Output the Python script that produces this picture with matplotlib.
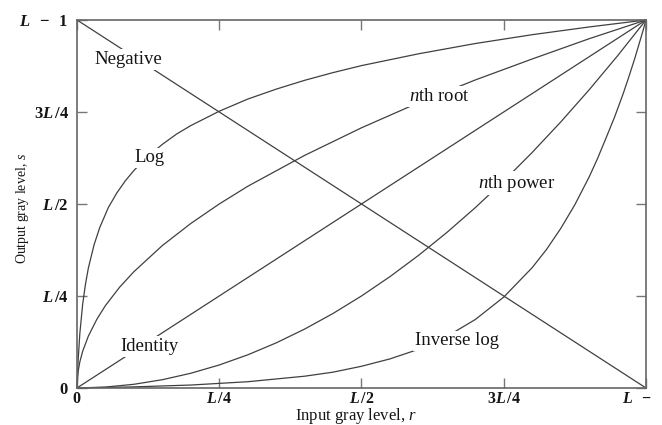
import matplotlib
matplotlib.use("Agg")
import matplotlib.pyplot as plt

plt.rcParams.update({"font.family": "Liberation Serif",
                     "mathtext.fontset": "custom",
                     "mathtext.rm": "Liberation Serif",
                     "mathtext.it": "Liberation Serif:italic",
                     "mathtext.bf": "Liberation Serif:bold",
                     "mathtext.bfit": "Liberation Serif:italic:bold"})

# curve values (fractions of L-1)
X_NEG = [0.0, 1.0]
Y_NEG = [1.0, 0.0]
X_ID = [0.0, 1.0]
Y_ID = [0.0, 1.0]
X_LOG = [0.0, 0.002, 0.005, 0.01, 0.015, 0.02, 0.03, 0.04, 0.055, 0.07, 0.085, 0.1,
         0.125, 0.15, 0.175, 0.2, 0.25, 0.3, 0.35, 0.4, 0.45, 0.5, 0.6, 0.7, 0.8,
         0.9, 1.0]
Y_LOG = [0.0, 0.075, 0.148, 0.228, 0.283, 0.326, 0.389, 0.436, 0.490, 0.530, 0.563,
         0.591, 0.630, 0.662, 0.690, 0.713, 0.752, 0.785, 0.812, 0.836, 0.857,
         0.876, 0.908, 0.936, 0.960, 0.981, 1.0]
X_INV = [0.0, 0.1, 0.2, 0.3, 0.4, 0.45, 0.5, 0.55, 0.6, 0.65, 0.7, 0.75, 0.8, 0.825,
         0.85, 0.875, 0.9, 0.915, 0.93, 0.945, 0.96, 0.97, 0.98, 0.99, 0.995, 0.998,
         1.0]
Y_INV = [0.0, 0.003, 0.008, 0.017, 0.032, 0.043, 0.059, 0.079, 0.105, 0.140, 0.186,
         0.247, 0.327, 0.376, 0.433, 0.498, 0.573, 0.624, 0.680, 0.737, 0.800,
         0.846, 0.894, 0.946, 0.972, 0.989, 1.0]
X_ROOT = [0.0, 0.002, 0.005, 0.01, 0.02, 0.035, 0.05, 0.075, 0.1, 0.15, 0.2, 0.25,
          0.3, 0.4, 0.5, 0.6, 0.7, 0.8, 0.9, 1.0]
Y_ROOT = [0.0, 0.045, 0.071, 0.100, 0.141, 0.187, 0.224, 0.274, 0.316, 0.387,
          0.447, 0.500, 0.548, 0.632, 0.707, 0.775, 0.837, 0.894, 0.949, 1.0]
X_POW = [0.0, 0.05, 0.1, 0.15, 0.2, 0.25, 0.3, 0.35, 0.4, 0.45, 0.5, 0.55, 0.6, 0.65,
         0.7, 0.75, 0.8, 0.85, 0.9, 0.95, 1.0]
Y_POW = [0.0, 0.0025, 0.01, 0.0225, 0.04, 0.0625, 0.09, 0.1225, 0.16, 0.2025, 0.25,
         0.3025, 0.36, 0.4225, 0.49, 0.5625, 0.64, 0.7225, 0.81, 0.9025, 1.0]

TICKS = [0, 0.25, 0.5, 0.75, 1.0]
TICK_LABELS = [r"$\mathbf{0}$", r"$\mathbfit{L}\,\mathbf{/4}$",
               r"$\mathbfit{L}\,\mathbf{/2}$", r"$\mathbf{3}\mathbfit{L}\,\mathbf{/4}$",
               r"$\mathbfit{L}\;\;\;\mathbf{-}\;\;\;\mathbf{1}$"]

LABELS = ["Negative", "Log", "$n$th root", "$n$th power", "Inverse log", "Identity"]
LABEL_POS = [(0.090, 0.893), (0.127, 0.625), (0.636, 0.792), (0.773, 0.557),
             (0.668, 0.128), (0.128, 0.112)]

LC = "#404040"
fig = plt.figure(figsize=(6.62, 4.25), dpi=100)
ax = fig.add_axes([0.1163, 0.0871, 0.8595, 0.8659])
for xs, ys in [(X_NEG, Y_NEG), (X_ID, Y_ID), (X_LOG, Y_LOG), (X_INV, Y_INV),
               (X_ROOT, Y_ROOT), (X_POW, Y_POW)]:
    ax.plot(xs, ys, color=LC, lw=0.9, solid_capstyle="butt", clip_on=False)

for lab, (x, y) in zip(LABELS, LABEL_POS):
    ax.text(x, y, lab, ha="center", va="center", fontsize=13.5, color="#151515",
            bbox=dict(boxstyle="square,pad=0.1", fc="white", ec="none"), zorder=4)

ax.set_xlim(0, 1); ax.set_ylim(0, 1)
ax.set_xticks(TICKS); ax.set_xticklabels(TICK_LABELS, fontsize=11.5)
ax.set_yticks(TICKS); ax.set_yticklabels(TICK_LABELS, fontsize=12)
ax.tick_params(direction="in", length=7, width=1, color="#777", pad=6,
               top=True, right=True, labelcolor="#151515")
ax.tick_params(axis="x", pad=2)
for s in ax.spines.values():
    s.set_color("#666"); s.set_linewidth(1.2)
ax.set_xlabel("Input gray level, $r$", fontsize=12, color="#151515")
ax.xaxis.set_label_coords(0.49, -0.049)
ax.set_ylabel("Output gray level, $s$", fontsize=10, color="#151515")
ax.yaxis.set_label_coords(-0.081, 0.487)
fig.savefig("out.png", dpi=100)
